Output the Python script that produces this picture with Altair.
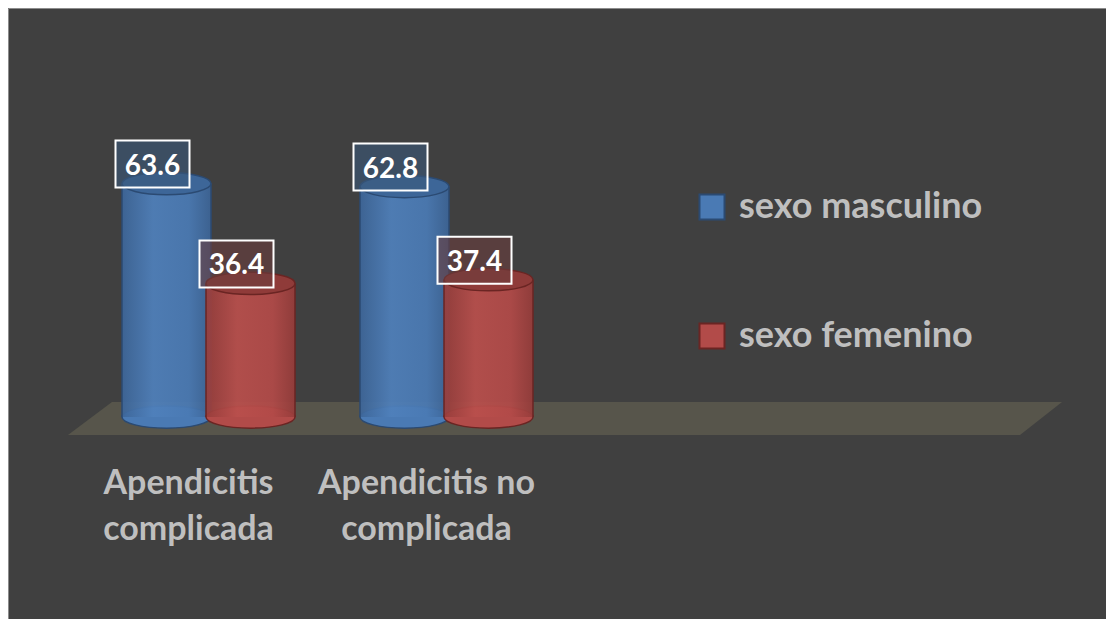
import altair as alt
import pandas as pd

# ---- data ----
categories = ["Apendicitis complicada", "Apendicitis no complicada"]
category_lines = [["Apendicitis", "complicada"], ["Apendicitis no", "complicada"]]
series = ["sexo masculino", "sexo femenino"]
masculino = [63.6, 62.8]
femenino = [36.4, 37.4]
values_by_series = [masculino, femenino]

# ---- style ----
FONT = "Lato"
BG = "#404040"
body_main = ["#4a7ab4", "#b24b49"]
body_stops = [
    [("#3d6699", 0), ("#4f80bb", 0.35), ("#4a7ab4", 0.75), ("#3c6496", 1)],
    [("#973d3b", 0), ("#b94f4c", 0.35), ("#b24a48", 0.75), ("#953c3a", 1)],
]
top_fill = ["#3d6698", "#8f3b39"]
edge = ["#2b4a72", "#6a2523"]
box_fill = ["#3b597a", "#6b3d3d"]

# ---- layout (chart pixels) ----
W, H = 1098, 611
BASE_Y = 409.0       # pixel row of value 0
PPU = 3.67           # pixels per value unit
SLOT = 238.0         # pixels between category centres
X0 = 200.5           # pixel column of first category centre
OFF = 42.0           # series offset from category centre
CYL_W = 89.0
ELL_RATIO = 0.25

def px_x(p):
    return (p - X0) / SLOT

def px_y(p):
    return (BASE_Y - p) / PPU

xscale = alt.Scale(domain=[px_x(0), px_x(W)], nice=False, zero=False)
yscale = alt.Scale(domain=[px_y(H), px_y(0)], nice=False, zero=False)

rows = []
for j, s in enumerate(series):
    for i, c in enumerate(categories):
        v = values_by_series[j][i]
        xc = i + (j - 0.5) * 2 * OFF / SLOT
        rows.append(dict(series=s, sidx=j, category=c, value=v, zero=0.0,
                         xc=xc, xl=xc - CYL_W / 2 / SLOT, xr=xc + CYL_W / 2 / SLOT,
                         label=f"{v:.1f}"))
df = pd.DataFrame(rows)

X = lambda f: alt.X(f"{f}:Q", scale=xscale, axis=None)
Y = lambda f: alt.Y(f"{f}:Q", scale=yscale, axis=None)

# floor parallelogram
floor_df = pd.DataFrame({
    "fy": [px_y(394), px_y(427)],
    "fx1": [px_x(104), px_x(60)],
    "fx2": [px_x(1054), px_x(1012)],
})
floor = alt.Chart(floor_df).mark_area(orient="horizontal", color="#57554b").encode(
    y=Y("fy"), x=X("fx1"), x2="fx2"
)

ELLIPSE = f"M -1 0 A 1 {ELL_RATIO} 0 1 1 1 0 A 1 {ELL_RATIO} 0 1 1 -1 0 Z"
BOXH = 47.0 / 74.0
BOX = f"M -1 {-BOXH} L 1 {-BOXH} L 1 {BOXH} L -1 {BOXH} Z"

layers = [floor]
for j, s in enumerate(series):
    d = df[df.sidx == j]
    base = alt.Chart(d)
    leg = alt.Legend(
        orient="none", legendX=686, legendY=181, title=None,
        symbolType="square", symbolSize=625, symbolStrokeWidth=2,
        labelFont=FONT, labelFontSize=36, labelFontWeight="bold",
        labelColor="#bfbfbf", labelOffset=9, rowPadding=93, padding=0,
        labelLimit=400,
    )
    bottom = base.mark_point(shape=ELLIPSE, filled=True, size=CYL_W ** 2,
                             strokeWidth=1.5, opacity=1).encode(
        x=X("xc"), y=Y("zero"),
        fill=alt.Fill("series:N", scale=alt.Scale(domain=series, range=body_main),
                      legend=leg if j == 0 else None),
        stroke=alt.Stroke("series:N", scale=alt.Scale(domain=series, range=edge),
                          legend=leg if j == 0 else None),
    )
    body = base.mark_rect(
        fill=alt.Gradient(gradient="linear", x1=0, x2=1, y1=0, y2=0,
                          stops=[alt.GradientStop(color=c, offset=o) for c, o in body_stops[j]]),
        opacity=0.93, strokeWidth=0,
    ).encode(x=X("xl"), x2="xr", y=Y("zero"), y2="value")
    left_edge = base.mark_rule(color=edge[j], strokeWidth=1.5).encode(
        x=X("xl"), y=Y("zero"), y2="value")
    right_edge = base.mark_rule(color=edge[j], strokeWidth=1.5).encode(
        x=X("xr"), y=Y("zero"), y2="value")
    top = base.mark_point(shape=ELLIPSE, filled=True, size=CYL_W ** 2,
                          fill=top_fill[j], stroke=edge[j], strokeWidth=1.5,
                          opacity=1).encode(x=X("xc"), y=Y("value"))
    layers += [bottom, body, left_edge, right_edge, top]

for j, s in enumerate(series):
    d = df[df.sidx == j]
    base = alt.Chart(d)
    box = base.mark_point(shape=BOX, filled=True, size=74 ** 2, fill=box_fill[j],
                          fillOpacity=0.6, stroke="white", strokeWidth=2,
                          strokeOpacity=1, opacity=1,
                          xOffset=-14, yOffset=-19.5).encode(x=X("xc"), y=Y("value"))
    txt = base.mark_text(font=FONT, fontSize=28, fontWeight="bold", color="white",
                         align="center", baseline="middle",
                         xOffset=-14, yOffset=-17).encode(
        x=X("xc"), y=Y("value"), text="label:N")
    layers += [box, txt]

cat_df = pd.DataFrame({"ci": list(range(len(categories))),
                       "lines": category_lines,
                       "ly": [px_y(476)] * len(categories)})
cat_text = alt.Chart(cat_df).mark_text(
    font=FONT, fontSize=34, fontWeight="bold", color="#bfbfbf",
    align="center", baseline="middle", lineHeight=46, xOffset=-20,
).encode(x=X("ci"), y=Y("ly"), text="lines")
layers.append(cat_text)

chart = alt.layer(*layers).properties(
    width=W, height=H, background=BG, padding=0,
    autosize=alt.AutoSizeParams(type="fit", contains="padding"),
).configure_view(stroke="#8c8c8c", strokeWidth=1).resolve_scale(
    fill="shared", stroke="shared")

chart.save("out.html", embed_options={"renderer": "svg", "actions": False})
